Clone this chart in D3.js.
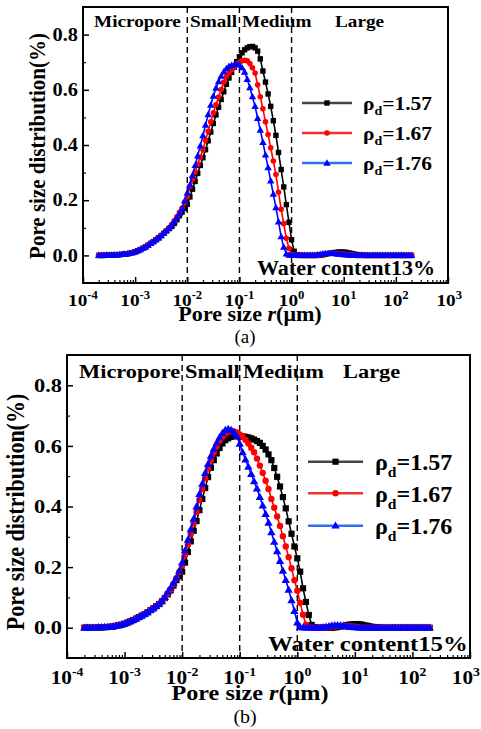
<!DOCTYPE html>
<html><head><meta charset="utf-8">
<script src="https://cdn.jsdelivr.net/npm/d3@7"></script>
<style>body{margin:0;background:#fff}svg{display:block}</style>
</head><body>
<svg id="c" width="481" height="729"></svg>
<script>
// ---------- DATA ----------
// log10 of pore size r (um)
const logPoreSize = [
-3.7,-3.65,-3.6,-3.55,-3.5,-3.45,-3.4,-3.35,-3.3,-3.25,
-3.2,-3.15,-3.1,-3.05,-3,-2.95,-2.9,-2.85,-2.8,-2.75,
-2.7,-2.65,-2.6,-2.55,-2.5,-2.45,-2.4,-2.35,-2.3,-2.25,
-2.2,-2.15,-2.1,-2.05,-2,-1.95,-1.9,-1.85,-1.8,-1.75,
-1.7,-1.65,-1.6,-1.55,-1.5,-1.45,-1.4,-1.35,-1.3,-1.25,
-1.2,-1.15,-1.1,-1.05,-1,-0.95,-0.9,-0.85,-0.8,-0.75,
-0.7,-0.65,-0.6,-0.55,-0.5,-0.45,-0.4,-0.35,-0.3,-0.25,
-0.2,-0.15,-0.1,-0.05,0,0.05,0.1,0.15,0.2,0.25,
0.3,0.35,0.4,0.45,0.5,0.55,0.6,0.65,0.7,0.75,
0.8,0.85,0.9,0.95,1,1.05,1.1,1.15,1.2,1.25,
1.3,1.35,1.4,1.45,1.5,1.55,1.6,1.65,1.7,1.75,
1.8,1.85,1.9,1.95,2,2.05,2.1,2.15,2.2,2.25,
2.3];

const seriesLabels = ["1.57","1.67","1.76"];

// (a) water content 13%
const a157 = [
0,0,0,.001,.001,.001,.002,.002,.003,.004,
.005,.006,.008,.010,.013,.017,.021,.026,.031,.037,
.044,.050,.057,.064,.072,.080,.089,.097,.105,.116,
.129,.144,.157,.170,.185,.212,.240,.268,.297,.326,
.354,.383,.415,.447,.478,.509,.537,.565,.593,.620,
.643,.663,.682,.702,.720,.734,.745,.752,.756,.757,
.752,.740,.712,.668,.628,.585,.540,.488,.435,.373,
.311,.248,.184,.120,.057,.015,.002,.001,0,0,
0,0,0,0,.001,.001,.002,.004,.006,.008,
.010,.011,.012,.012,.012,.011,.009,.007,.005,.003,
.002,.001,0,0,0,0,0,0,0,0,
0,0,0,0,0,0,0,0,0,0,
0];
const a167 = [
0,0,0,.001,.001,.001,.002,.002,.003,.004,
.005,.006,.008,.010,.013,.017,.021,.026,.031,.037,
.044,.050,.057,.064,.072,.081,.090,.100,.112,.125,
.140,.156,.172,.192,.213,.250,.276,.302,.330,.356,
.383,.417,.450,.484,.517,.546,.574,.601,.628,.647,
.662,.673,.684,.693,.700,.705,.707,.705,.695,.680,
.661,.618,.575,.531,.484,.438,.390,.342,.293,.229,
.167,.115,.062,.026,.004,.001,0,0,0,0,
0,0,0,0,0,.002,.004,.006,.007,.008,
.008,.008,.007,.006,.005,.004,.003,.002,.001,0,
0,0,0,0,0,0,0,0,0,0,
0,0,0,0,0,0,0,0,0,0,
0];
const a176 = [
0,0,0,.001,.001,.001,.002,.002,.003,.004,
.005,.006,.008,.010,.013,.017,.021,.026,.031,.037,
.044,.050,.057,.064,.072,.081,.090,.099,.110,.122,
.137,.152,.170,.198,.227,.256,.290,.326,.361,.397,
.434,.472,.510,.545,.577,.606,.630,.650,.665,.677,
.685,.689,.691,.692,.690,.680,.664,.638,.608,.575,
.540,.497,.454,.410,.364,.318,.270,.222,.173,.122,
.068,.030,.006,.001,0,0,0,0,0,0,
0,0,0,0,.002,.004,.006,.007,.008,.008,
.007,.006,.005,.004,.003,.002,.001,0,0,0,
0,0,0,0,0,0,0,0,0,0,
0,0,0,0,0,0,0,0,0,0,
0];

// (b) water content 15%
const b157 = [
0,0,0,0,0,.001,.001,.002,.002,.003,
.004,.006,.008,.010,.013,.017,.021,.025,.030,.035,
.040,.045,.051,.058,.064,.071,.078,.087,.098,.110,
.123,.139,.157,.170,.185,.215,.250,.285,.320,.352,
.388,.425,.461,.497,.528,.553,.575,.593,.608,.619,
.625,.630,.632,.632,.631,.631,.630,.628,.625,.621,
.616,.610,.600,.588,.572,.553,.527,.498,.466,.431,
.394,.351,.310,.268,.229,.185,.130,.085,.042,.009,
.002,0,0,0,0,0,0,.001,.002,.004,
.006,.008,.010,.011,.012,.012,.011,.009,.007,.005,
.003,.002,.001,0,0,0,0,0,0,0,
0,0,0,0,0,0,0,0,0,0,
0];
const b167 = [
0,0,0,0,0,.001,.001,.002,.002,.003,
.004,.006,.008,.010,.013,.017,.021,.025,.030,.035,
.040,.045,.051,.058,.064,.071,.078,.087,.098,.113,
.127,.144,.163,.184,.205,.240,.275,.310,.345,.383,
.422,.458,.493,.525,.553,.578,.598,.616,.630,.640,
.647,.650,.648,.644,.638,.630,.620,.608,.594,.579,
.558,.535,.511,.485,.458,.425,.396,.367,.336,.302,
.268,.233,.196,.157,.122,.082,.043,.010,.002,0,
0,0,0,0,.001,.002,.004,.005,.006,.006,
.006,.005,.005,.004,.003,.002,.001,0,0,0,
0,0,0,0,0,0,0,0,0,0,
0,0,0,0,0,0,0,0,0,0,
0];
const b176 = [
0,0,0,0,0,.001,.001,.002,.002,.003,
.004,.006,.008,.010,.013,.017,.021,.025,.030,.035,
.040,.045,.051,.058,.064,.071,.079,.089,.101,.118,
.132,.148,.165,.188,.215,.255,.290,.325,.359,.400,
.441,.475,.510,.540,.567,.590,.610,.628,.642,.652,
.656,.652,.645,.632,.607,.579,.555,.531,.507,.483,
.459,.431,.403,.375,.346,.315,.283,.252,.220,.188,
.157,.125,.090,.055,.017,.002,0,0,0,0,
0,0,0,.001,.003,.005,.007,.008,.008,.007,
.006,.004,.003,.002,.001,0,0,0,0,0,
0,0,0,0,0,0,0,0,0,0,
0,0,0,0,0,0,0,0,0,0,
0];

const regionLabels = ["Micropore","Small","Medium","Large"];
const regionBounds = [0.01, 0.1, 1];
const yTicks = [0, 0.2, 0.4, 0.6, 0.8];
const yTickLabels = ["0.0","0.2","0.4","0.6","0.8"];
const yMinorTicks = [0.1, 0.3, 0.5, 0.7];
const xTickExponents = [-4,-3,-2,-1,0,1,2,3];
const captions = ["(a)","(b)"];
const waterLabels = ["Water content13%","Water content15%"];
const yTitle = "Pore size distribution(%)";

// ---------- STYLE / LAYOUT ----------
const colors = ["#000000","#ff0000","#0000ff"];
const legColors = ["#444444","#f03030","#3070f0"];
const FONT = "'Liberation Serif','Times New Roman',serif";
const svg = d3.select("#c");

const panels = [
 {series:[a157,a167,a176], left:83,right:448,top:7,bottom:283, sx:1.1,
  f:{ytick:18.5,xtick:17.5,sup:11.5,region:17.5,water:20.5,legend:19.5,xtitle:20.5,ytitle:21,cap:18},
  regionX:[94,190,242,335], regionY:27, waterX:257, waterY:275,
  legLine:[302,352], legTextX:363, legY:[103,133,163], legSx:1.1,
  ytitleX:45, ytitleY:146, xtitleX:250, xtitleY:321, capX:245, capY:343, xtickY:306,
  ms:{sq:5.4, cr:2.8, tr:24}},
 {series:[b157,b167,b176], left:67,right:470,top:355,bottom:658, sx:1.15,
  f:{ytick:19.5,xtick:18.5,sup:12,region:19.5,water:22,legend:24,xtitle:21.5,ytitle:22,cap:19},
  regionX:[79,185,243,343], regionY:378, waterX:268, waterY:651,
  legLine:[308,363], legTextX:375, legY:[461.7,493.3,525.7], legSx:1.0,
  ytitleX:24, ytitleY:512, xtitleX:250, xtitleY:700, capX:245, capY:723, xtickY:684,
  ms:{sq:6.2, cr:3.2, tr:30}}
];

function stext(g, x, y, sx, size, opts={}) {
  return g.append("text")
    .attr("transform", `translate(${x},${y}) scale(${sx},1)`)
    .attr("font-family", FONT).attr("font-size", size)
    .attr("font-weight", opts.weight || "bold")
    .attr("text-anchor", opts.anchor || "start")
    .attr("fill", "#000");
}

function drawMarker(g, k, cx, cy, ms) {
  if (k === 0) {
    g.append("rect").attr("x", cx - ms.sq/2).attr("y", cy - ms.sq/2)
      .attr("width", ms.sq).attr("height", ms.sq).attr("fill", colors[0]);
  } else if (k === 1) {
    g.append("circle").attr("cx", cx).attr("cy", cy).attr("r", ms.cr).attr("fill", colors[1]);
  } else {
    g.append("path").attr("d", d3.symbol(d3.symbolTriangle, ms.tr)())
      .attr("transform", `translate(${cx},${cy + 0.5})`).attr("fill", colors[2]);
  }
}

panels.forEach((P, pi) => {
  const x = d3.scaleLog().domain([1e-4, 1e3]).range([P.left, P.right]);
  const y = d3.scaleLinear().domain([-0.1, 0.9]).range([P.bottom, P.top]);
  const g = svg.append("g");

  // region boundaries
  regionBounds.forEach(b => {
    g.append("line").attr("x1", x(b)).attr("x2", x(b))
      .attr("y1", P.top).attr("y2", P.bottom)
      .attr("stroke", "#000").attr("stroke-width", 1.4).attr("stroke-dasharray", "6,4");
  });

  // series
  P.series.forEach((vals, k) => {
    const pts = logPoreSize.map((e, i) => [Math.pow(10, e), vals[i]]);
    g.append("path").datum(pts)
      .attr("d", d3.line().x(d => x(d[0])).y(d => y(d[1])))
      .attr("fill", "none").attr("stroke", colors[k]).attr("stroke-width", 1.6);
    const mg = g.append("g");
    pts.forEach(d => drawMarker(mg, k, x(d[0]), y(d[1]), P.ms));
  });

  // axes (ticks inward)
  const majors = xTickExponents.map(e => Math.pow(10, e));
  const minors = [];
  for (let e = -4; e < 3; e++) for (let m = 2; m <= 9; m++) minors.push(m * Math.pow(10, e));
  const ax = g.append("g").attr("transform", `translate(0,${P.bottom})`)
    .call(d3.axisBottom(x).tickValues(majors).tickSizeInner(-6).tickSizeOuter(0).tickFormat(""));
  ax.select(".domain").remove();
  ax.selectAll("line").attr("stroke-width", 1.5);
  const axm = g.append("g").attr("transform", `translate(0,${P.bottom})`)
    .call(d3.axisBottom(x).tickValues(minors).tickSizeInner(-3).tickSizeOuter(0).tickFormat(""));
  axm.select(".domain").remove();
  axm.selectAll("line").attr("stroke-width", 1.2);

  const ay = g.append("g").attr("transform", `translate(${P.left},0)`)
    .call(d3.axisLeft(y).tickValues(yTicks).tickSizeInner(-6).tickSizeOuter(0).tickFormat(""));
  ay.select(".domain").remove();
  ay.selectAll("line").attr("stroke-width", 1.5);
  const aym = g.append("g").attr("transform", `translate(${P.left},0)`)
    .call(d3.axisLeft(y).tickValues(yMinorTicks).tickSizeInner(-3).tickSizeOuter(0).tickFormat(""));
  aym.select(".domain").remove();
  aym.selectAll("line").attr("stroke-width", 1.2);

  // frame
  g.append("rect").attr("x", P.left).attr("y", P.top)
    .attr("width", P.right - P.left).attr("height", P.bottom - P.top)
    .attr("fill", "none").attr("stroke", "#000").attr("stroke-width", 2);

  // y tick labels
  yTicks.forEach((v, i) => {
    stext(g, P.left - 5, y(v) + P.f.ytick * 0.34, P.sx, P.f.ytick, {anchor: "end"}).text(yTickLabels[i]);
  });
  // x tick labels
  xTickExponents.forEach((e, i) => {
    const last = i === xTickExponents.length - 1;
    const t = stext(g, last ? Math.min(x(Math.pow(10, e)) + 14, 480) : x(Math.pow(10, e)), P.xtickY, P.sx, P.f.xtick,
                    {anchor: last ? "end" : "middle"});
    t.append("tspan").text("10");
    t.append("tspan").attr("dy", -P.f.xtick * 0.42).attr("font-size", P.f.sup).text(String(e));
  });

  // region labels
  regionLabels.forEach((s, i) => {
    stext(g, P.regionX[i], P.regionY, P.sx, P.f.region).text(s);
  });

  // water content label
  stext(g, P.waterX, P.waterY, P.sx * 0.98, P.f.water).text(waterLabels[pi]);

  // legend
  seriesLabels.forEach((s, k) => {
    const ly = P.legY[k];
    g.append("line").attr("x1", P.legLine[0]).attr("x2", P.legLine[1]).attr("y1", ly).attr("y2", ly)
      .attr("stroke", legColors[k]).attr("stroke-width", 2.4);
    drawMarker(g, k, (P.legLine[0] + P.legLine[1]) / 2, ly, P.ms);
    const t = stext(g, P.legTextX, ly + P.f.legend * 0.36, P.legSx, P.f.legend);
    t.append("tspan").text("\u03c1");
    t.append("tspan").attr("dy", P.f.legend * 0.28).attr("font-size", P.f.legend * 0.65).text("d");
    t.append("tspan").attr("dy", -P.f.legend * 0.28).text("=" + s);
  });

  // axis titles
  const xt = stext(g, P.xtitleX, P.xtitleY, P.sx * 0.98, P.f.xtitle, {anchor: "middle"});
  xt.append("tspan").text("Pore size ");
  xt.append("tspan").attr("font-style", "italic").text("r");
  xt.append("tspan").text("(\u03bcm)");

  g.append("text")
    .attr("transform", `translate(${P.ytitleX},${P.ytitleY}) rotate(-90) scale(1,${P.sx})`)
    .attr("font-family", FONT).attr("font-size", P.f.ytitle).attr("font-weight", "bold")
    .attr("text-anchor", "middle").text(yTitle);

  // caption
  stext(g, P.capX, P.capY, 1.05, P.f.cap, {anchor: "middle", weight: "normal"}).text(captions[pi]);
});
</script>
</body></html>
